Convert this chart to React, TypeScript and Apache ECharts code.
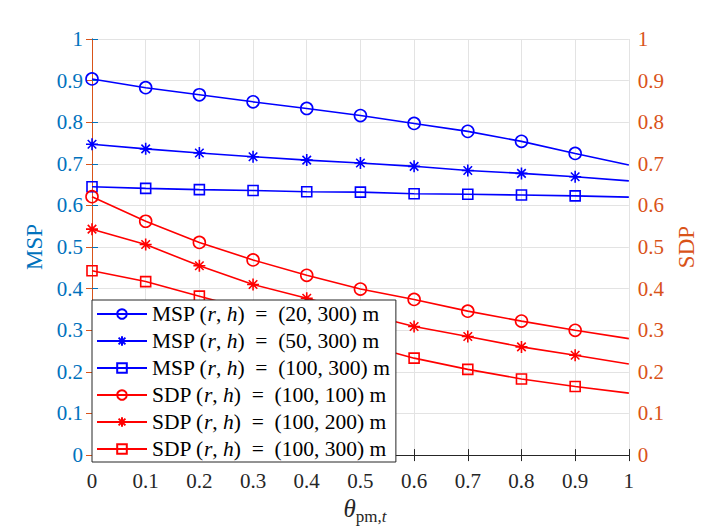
import React, { useEffect, useRef } from "react";
import * as echarts from "echarts";

const theta = [0, 0.1, 0.2, 0.3, 0.4, 0.5, 0.6, 0.7, 0.8, 0.9, 1];
const msp20_300 = [0.904, 0.883, 0.866, 0.849, 0.833, 0.816, 0.797, 0.778, 0.754, 0.725, 0.697];
const msp50_300 = [0.747, 0.736, 0.726, 0.717, 0.709, 0.702, 0.694, 0.684, 0.677, 0.669, 0.659];
const msp100_300 = [0.645, 0.641, 0.638, 0.636, 0.633, 0.632, 0.628, 0.627, 0.625, 0.623, 0.62];
const sdp100_100 = [0.621, 0.562, 0.511, 0.469, 0.432, 0.399, 0.374, 0.346, 0.322, 0.3, 0.28];
const sdp100_200 = [0.543, 0.506, 0.455, 0.41, 0.377, 0.342, 0.309, 0.285, 0.26, 0.24, 0.219];
const sdp100_300 = [0.443, 0.417, 0.382, 0.347, 0.305, 0.268, 0.233, 0.206, 0.183, 0.165, 0.149];

const seriesNames = [
  "MSP (r, h) = (20, 300) m",
  "MSP (r, h) = (50, 300) m",
  "MSP (r, h) = (100, 300) m",
  "SDP (r, h) = (100, 100) m",
  "SDP (r, h) = (100, 200) m",
  "SDP (r, h) = (100, 300) m",
];

const FONT = "'Liberation Serif', 'Times New Roman', 'DejaVu Serif', serif";
const BLUE_AX = "#0072BD";
const ORANGE_AX = "#D95319";
const GRAY = "#262626";
const STAR = "path://M12,0L12,24M0,12L24,12M3.5,3.5L20.5,20.5M3.5,20.5L20.5,3.5";

function pair(values: number[]) {
  const last = theta.length - 1;
  return theta.map((t, i) => (i === last ? { value: [t, values[i]], symbol: "none" } : [t, values[i]]));
}

function mkSeries(name: string, values: number[], color: string, symbol: string, size: number, yIdx: number) {
  return {
    name,
    type: "line",
    yAxisIndex: yIdx,
    data: pair(values),
    symbol,
    symbolSize: size,
    showAllSymbol: true,
    lineStyle: { color, width: 1.6 },
    itemStyle: { color: "rgba(0,0,0,0)", borderColor: color, borderWidth: 1.6 },
    emphasis: { disabled: true },
  };
}

export default function App() {
  const ref = useRef<HTMLDivElement>(null);
  useEffect(() => {
    if (!ref.current) return;
    const chart = echarts.init(ref.current, undefined, { renderer: "svg" });
    const fmt = (v: number) => {
      const r = Math.round(v * 10) / 10;
      return r === 0 ? "0" : r === 1 ? "1" : r.toFixed(1);
    };
    const yCommon = (color: string, position: string, name: string, gap: number, split: boolean) => ({
      type: "value",
      position,
      min: 0,
      max: 1,
      interval: 0.1,
      name,
      nameLocation: "middle",
      nameGap: gap,
      nameTextStyle: { fontFamily: FONT, fontSize: 23, color },
      axisLine: { show: true, lineStyle: { color, width: 1 } },
      axisTick: { show: true, inside: true, length: 6, lineStyle: { color } },
      axisLabel: {
        fontFamily: FONT,
        fontSize: 21,
        color,
        margin: 9,
        showMinLabel: true,
        showMaxLabel: true,
        formatter: fmt,
      },
      splitLine: { show: split, lineStyle: { color: "#e3e3e3", width: 1 } },
    });
    chart.setOption({
      animation: false,
      backgroundColor: "#ffffff",
      grid: { left: 92, right: 75, top: 39, bottom: 68, containLabel: false },
      xAxis: [
        {
          type: "value",
          position: "bottom",
          min: 0,
          max: 1,
          interval: 0.1,
          name: "{a|θ}{b|pm,}{c|t}",
          nameLocation: "middle",
          nameGap: 35,
          nameTextStyle: {
            padding: [0, 0, 0, 9],
            rich: {
              a: { fontFamily: FONT, fontStyle: "italic", fontSize: 25, color: GRAY, lineHeight: 29, verticalAlign: "top" },
              b: { fontFamily: FONT, fontSize: 17, color: GRAY, lineHeight: 14, verticalAlign: "bottom" },
              c: { fontFamily: FONT, fontStyle: "italic", fontSize: 17, color: GRAY, lineHeight: 14, verticalAlign: "bottom" },
            },
          },
          axisLine: { show: true, lineStyle: { color: GRAY, width: 1 } },
          axisTick: { show: true, inside: true, length: 6, lineStyle: { color: GRAY } },
          axisLabel: {
            fontFamily: FONT,
            fontSize: 21,
            color: GRAY,
            margin: 15,
            showMinLabel: true,
            showMaxLabel: true,
            formatter: fmt,
          },
          splitLine: { show: true, lineStyle: { color: "#e3e3e3", width: 1 } },
        },
        {
          type: "value",
          position: "top",
          min: 0,
          max: 1,
          interval: 0.1,
          axisLine: { show: true, lineStyle: { color: GRAY, width: 1 } },
          axisTick: { show: true, inside: true, length: 6, lineStyle: { color: GRAY } },
          axisLabel: { show: false },
          splitLine: { show: false },
        },
      ],
      yAxis: [yCommon(BLUE_AX, "left", "MSP", 46, true), yCommon(ORANGE_AX, "right", "SDP", 45, false)],
      legend: {
        orient: "vertical",
        left: 92,
        bottom: 68,
        z: 10,
        itemWidth: 50,
        itemHeight: 12,
        itemGap: 5,
        padding: [3, 6, 2, 4],
        backgroundColor: "#ffffff",
        borderColor: GRAY,
        borderWidth: 1,
        borderRadius: 0,
        data: seriesNames,
        formatter: (name: string) => name.replace("(r, h)", "({i|r}, {i|h})").replace(" = ", "  =  "),
        textStyle: {
          fontFamily: FONT,
          fontSize: 21.5,
          color: "#000",
          lineHeight: 22,
          rich: {
            i: { fontFamily: FONT, fontStyle: "italic", fontSize: 21.5, color: "#000", lineHeight: 22 },
          },
        },
      },
      series: [
        mkSeries(seriesNames[0], msp20_300, "#0000FF", "circle", 12, 0),
        mkSeries(seriesNames[1], msp50_300, "#0000FF", STAR, 12, 0),
        mkSeries(seriesNames[2], msp100_300, "#0000FF", "rect", 10, 0),
        mkSeries(seriesNames[3], sdp100_100, "#FF0000", "circle", 12, 1),
        mkSeries(seriesNames[4], sdp100_200, "#FF0000", STAR, 12, 1),
        mkSeries(seriesNames[5], sdp100_300, "#FF0000", "rect", 10, 1),
      ],
    });
    return () => chart.dispose();
  }, []);
  return (
    <div
      ref={ref}
      style={{ position: "fixed", left: 0, top: 0, width: 706, height: 530 }}
    />
  );
}
